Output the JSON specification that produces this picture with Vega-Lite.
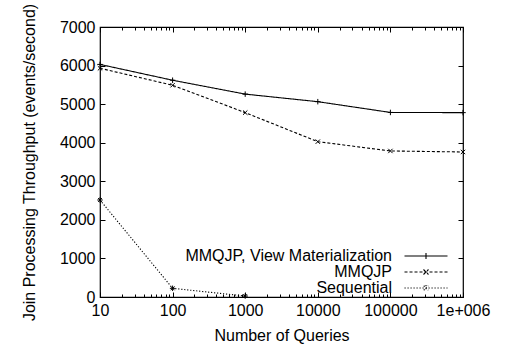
{
  "$schema": "https://vega.github.io/schema/vega-lite/v6.json",
  "width": 363,
  "height": 270,
  "autosize": "none",
  "padding": {"left": 100, "top": 27, "right": 60, "bottom": 53},
  "background": "white",
  "config": {
    "view": {"stroke": "black", "strokeWidth": 1.2},
    "font": "Liberation Sans",
    "axis": {"labelFont": "Liberation Sans", "titleFont": "Liberation Sans", "labelFontSize": 16, "titleFontSize": 16, "titleFontWeight": "normal", "labelColor": "black", "titleColor": "black", "tickColor": "black", "domain": false, "grid": false, "labelFlush": false, "labelOverlap": false},
    "legend": {"labelFont": "Liberation Sans", "labelFontSize": 16, "labelColor": "black", "labelLimit": 0}
  },
  "data": {"values": [
    {"queries": 10, "throughput": 6030, "series": "MMQJP, View Materialization"},
    {"queries": 100, "throughput": 5620, "series": "MMQJP, View Materialization"},
    {"queries": 1000, "throughput": 5260, "series": "MMQJP, View Materialization"},
    {"queries": 10000, "throughput": 5064, "series": "MMQJP, View Materialization"},
    {"queries": 100000, "throughput": 4785, "series": "MMQJP, View Materialization"},
    {"queries": 1000000, "throughput": 4780, "series": "MMQJP, View Materialization"},
    {"queries": 10, "throughput": 5930, "series": "MMQJP"},
    {"queries": 100, "throughput": 5490, "series": "MMQJP"},
    {"queries": 1000, "throughput": 4780, "series": "MMQJP"},
    {"queries": 10000, "throughput": 4027, "series": "MMQJP"},
    {"queries": 100000, "throughput": 3786, "series": "MMQJP"},
    {"queries": 1000000, "throughput": 3760, "series": "MMQJP"},
    {"queries": 10, "throughput": 2515, "series": "Sequential"},
    {"queries": 100, "throughput": 225, "series": "Sequential"},
    {"queries": 1000, "throughput": 25, "series": "Sequential"}
  ]},
  "layer": [
    {
      "mark": {"type": "line", "color": "black", "strokeWidth": 1.1},
      "encoding": {
        "x": {"field": "queries", "type": "quantitative",
          "scale": {"type": "log", "domain": [10, 1000000], "nice": false},
          "axis": {"title": "Number of Queries", "titlePadding": 7, "labelPadding": 10,
            "values": [10,20,30,40,50,60,70,80,90,100,200,300,400,500,600,700,800,900,1000,2000,3000,4000,5000,6000,7000,8000,9000,10000,20000,30000,40000,50000,60000,70000,80000,90000,100000,200000,300000,400000,500000,600000,700000,800000,900000,1000000],
            "labelExpr": "indexof([10,100,1000,10000,100000,1000000], datum.value) >= 0 ? (datum.value == 1000000 ? '1e+006' : format(datum.value, 'd')) : ''",
            "tickSize": {"condition": {"test": "indexof([10,100,1000,10000,100000,1000000], datum.value) >= 0", "value": -5}, "value": -3}}},
        "y": {"field": "throughput", "type": "quantitative",
          "scale": {"domain": [0, 7000], "nice": false},
          "axis": {"title": "Join Processing Throughput (events/second)", "format": "d", "values": [0,1000,2000,3000,4000,5000,6000,7000], "tickSize": -5, "labelPadding": 10, "titlePadding": 22}},
        "strokeDash": {"field": "series", "type": "nominal",
          "scale": {"domain": ["MMQJP, View Materialization", "MMQJP", "Sequential"], "range": [[1, 0], [3, 2], [1.2, 1.8]]},
          "legend": {"title": null, "orient": "none", "legendX": 318, "legendY": 221, "symbolType": "M-4.3,0L4.3,0M0,-0.6L0,0.6", "symbolSize": 100, "symbolStrokeColor": "black", "symbolFillColor": "transparent", "symbolStrokeWidth": 1.1, "labelAlign": "right", "labelOffset": -42, "rowPadding": -2,
            "encode": {"symbols": {"update": {"shape": {"signal": "datum.value == 'MMQJP' ? 'M-4.3,0L4.3,0M-0.5,-0.5L0.5,0.5M-0.5,0.5L0.5,-0.5' : datum.value == 'Sequential' ? 'M-4.3,0L4.3,0M0,-0.6L0,0.6M-0.45,-0.45L0.45,0.45M-0.45,0.45L0.45,-0.45' : 'M-4.3,0L4.3,0M0,-0.6L0,0.6'"}}}}}}
      }
    },
    {
      "mark": {"type": "point", "filled": false, "stroke": "black", "strokeWidth": 1, "size": 30, "opacity": 1},
      "encoding": {
        "x": {"field": "queries", "type": "quantitative",
          "axis": {"orient": "top", "title": null, "labels": false,
            "values": [10,20,30,40,50,60,70,80,90,100,200,300,400,500,600,700,800,900,1000,2000,3000,4000,5000,6000,7000,8000,9000,10000,20000,30000,40000,50000,60000,70000,80000,90000,100000,200000,300000,400000,500000,600000,700000,800000,900000,1000000],
            "tickSize": {"condition": {"test": "indexof([10,100,1000,10000,100000,1000000], datum.value) >= 0", "value": -5}, "value": -3}}},
        "y": {"field": "throughput", "type": "quantitative",
          "axis": {"orient": "right", "title": null, "labels": false, "values": [0,1000,2000,3000,4000,5000,6000,7000], "tickSize": -5}},
        "shape": {"field": "series", "type": "nominal",
          "scale": {"domain": ["MMQJP, View Materialization", "MMQJP", "Sequential"], "range": ["M-1,0L1,0M0,-1L0,1", "M-0.8,-0.8L0.8,0.8M-0.8,0.8L0.8,-0.8", "M-1,0L1,0M0,-1L0,1M-0.7,-0.7L0.7,0.7M-0.7,0.7L0.7,-0.7"]},
          "legend": null}
      }
    }
  ],
  "resolve": {"axis": {"x": "independent", "y": "independent"}, "legend": {"shape": "independent", "strokeDash": "independent"}}
}
